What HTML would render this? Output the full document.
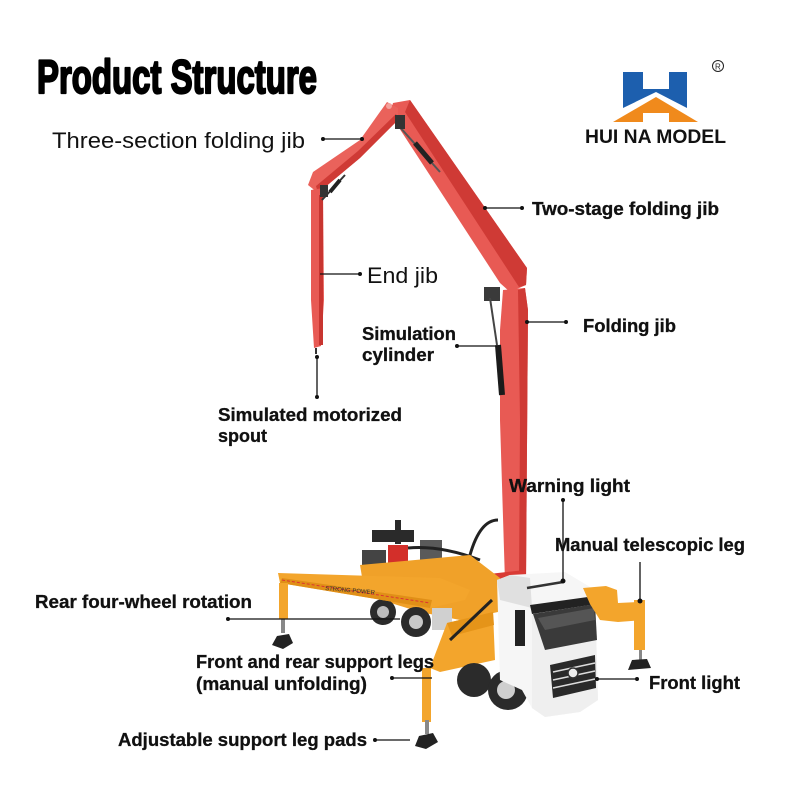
<!DOCTYPE html>
<html><head><meta charset="utf-8"><style>
html,body{margin:0;padding:0;background:#fff;}
svg{display:block;}
.b{font-family:"Liberation Sans",sans-serif;font-weight:bold;font-size:18px;fill:#111;stroke:#111;stroke-width:0.3;}
.r{font-family:"Liberation Sans",sans-serif;font-size:22px;fill:#111;}
</style></head><body>
<svg width="800" height="800" viewBox="0 0 800 800" xmlns="http://www.w3.org/2000/svg">
<rect width="800" height="800" fill="#fff"/>
<!-- Title -->
<text x="37" y="93" font-family="Liberation Sans,sans-serif" font-weight="bold" font-size="47" fill="#000" stroke="#000" stroke-width="2.2" stroke-linejoin="round" textLength="280" lengthAdjust="spacingAndGlyphs">Product Structure</text>
<!-- Logo -->
<polygon points="623,72 643,72 643,89 669,89 669,72 687,72 687,108 656,92 623,108" fill="#1d5fae"/>
<polygon points="613,122 656,97 698,122 669,122 669,113 643,113 643,122" fill="#f08a1c"/>
<text x="585" y="143" font-family="Liberation Sans,sans-serif" font-weight="bold" font-size="19" fill="#111" textLength="141" lengthAdjust="spacingAndGlyphs">HUI NA MODEL</text>
<circle cx="718" cy="66" r="5.5" fill="none" stroke="#222" stroke-width="1"/>
<text x="715" y="69.5" font-family="Liberation Sans,sans-serif" font-size="8" fill="#222">R</text>

<!-- ===== Boom ===== -->
<polygon points="390,114 393,103 410,100 527,268 526,285 510,292 500,283" fill="#e85a54"/>
<polygon points="410,100 527,268 526,285 519,287 405,112" fill="#cf3a35"/>
<polygon points="387,102 398,108 398,120 360,158 318,193 308,185 313,172 360,140" fill="#ea625b"/>
<polygon points="398,120 360,158 318,193 316,186 358,151 396,114" fill="#cf3a35"/>
<circle cx="389" cy="106" r="3" fill="#f4a19c"/>
<polygon points="311,190 323,188 324,300 321,346 314,348 311,300" fill="#e85a54"/>
<rect x="319" y="195" width="4" height="150" fill="#c83530"/>
<line x1="316" y1="348" x2="316" y2="354" stroke="#333" stroke-width="2"/>
<line x1="322" y1="200" x2="345" y2="175" stroke="#333" stroke-width="2"/>
<line x1="330" y1="192" x2="340" y2="180" stroke="#222" stroke-width="4"/>
<rect x="320" y="185" width="8" height="12" fill="#333"/>
<line x1="398" y1="125" x2="440" y2="172" stroke="#555" stroke-width="2"/>
<line x1="415" y1="143" x2="432" y2="163" stroke="#222" stroke-width="5"/>
<rect x="395" y="115" width="10" height="14" fill="#333"/>
<polygon points="503,290 525,288 528,310 526,582 505,582 500,420 500,330" fill="#e85a54"/>
<polygon points="518,290 525,288 528,310 526,582 519,582 520,420" fill="#cf3a35"/>
<rect x="484" y="287" width="16" height="14" fill="#3a3a3a"/>
<line x1="490" y1="298" x2="497" y2="345" stroke="#444" stroke-width="2"/>
<line x1="498" y1="345" x2="502" y2="395" stroke="#1b1b1b" stroke-width="6"/>
<polygon points="480,575 525,570 528,600 487,610" fill="#d93a34"/>
<path d="M470 555 Q480 520 498 520" stroke="#222" stroke-width="3" fill="none"/>

<!-- ===== Truck ===== -->
<rect x="372" y="530" width="42" height="12" fill="#2a2a2a"/>
<rect x="395" y="520" width="6" height="24" fill="#2a2a2a"/>
<rect x="388" y="545" width="20" height="20" fill="#d32f2a"/>
<rect x="420" y="540" width="22" height="20" fill="#5a5a5a"/>
<rect x="362" y="550" width="24" height="16" fill="#444"/>
<path d="M408 548 Q440 545 480 560" stroke="#222" stroke-width="3" fill="none"/>
<polygon points="360,565 470,555 500,578 498,612 460,620 420,612 365,595" fill="#f0a129"/>
<circle cx="383" cy="612" r="13" fill="#2b2b2b"/>
<circle cx="383" cy="612" r="6" fill="#bbb"/>
<circle cx="416" cy="622" r="15" fill="#2b2b2b"/>
<circle cx="416" cy="622" r="7" fill="#c8c8c8"/>
<rect x="432" y="608" width="20" height="22" fill="#d0d0d0"/>
<polygon points="278,573 440,578 470,590 465,600 430,608 280,583" fill="#f3a52c"/>
<polygon points="280,583 430,608 432,600 282,578" fill="#e08f17"/>
<line x1="282" y1="580" x2="430" y2="603" stroke="#d33" stroke-width="1" stroke-dasharray="3,2"/>
<text x="325" y="590" font-family="Liberation Sans,sans-serif" font-size="6" fill="#333" transform="rotate(5 325 590)">STRONG POWER</text>
<rect x="279" y="583" width="9" height="36" fill="#f3a52c"/>
<rect x="281" y="619" width="4" height="14" fill="#888"/>
<polygon points="272,645 277,636 289,634 293,643 283,649" fill="#222"/>
<polygon points="447,623 493,612 495,660 440,672 430,668" fill="#f3a52c"/>
<polygon points="447,623 493,612 494,625 452,636" fill="#e59419"/>
<line x1="450" y1="640" x2="492" y2="600" stroke="#222" stroke-width="3"/>
<rect x="422" y="668" width="9" height="54" fill="#f3a52c"/>
<rect x="425" y="720" width="4" height="14" fill="#888"/>
<polygon points="415,746 419,736 433,733 438,742 426,749" fill="#222"/>
<circle cx="474" cy="680" r="17" fill="#2b2b2b"/>
<circle cx="508" cy="690" r="20" fill="#2b2b2b"/>
<circle cx="506" cy="690" r="9" fill="#cfcfcf"/>
<polygon points="497,580 510,575 565,572 595,590 598,700 580,712 545,717 532,708 522,690 500,680" fill="#f6f6f6"/>
<polygon points="532,608 595,598 598,700 580,712 545,717 532,708" fill="#efefef"/>
<polygon points="497,580 510,575 530,578 532,608 500,600" fill="#e0e0e0"/>
<line x1="527" y1="588" x2="563" y2="582" stroke="#333" stroke-width="2.5"/>
<polygon points="530,605 595,596 596,604 532,614" fill="#222"/>
<polygon points="533,614 595,604 597,640 545,650" fill="#3a3a3a"/>
<polygon points="538,618 594,608 595,620 545,630" fill="#555"/>
<rect x="515" y="610" width="10" height="36" fill="#222"/>
<polygon points="550,665 595,655 596,688 553,698" fill="#2a2a2a"/>
<line x1="553" y1="672" x2="595" y2="663" stroke="#ddd" stroke-width="1.5"/>
<line x1="553" y1="680" x2="595" y2="671" stroke="#ddd" stroke-width="1.5"/>
<line x1="553" y1="688" x2="595" y2="679" stroke="#ddd" stroke-width="1.5"/>
<circle cx="573" cy="673" r="5" fill="#eee" stroke="#333" stroke-width="1.5"/>
<polygon points="583,588 606,586 617,590 618,603 640,602 645,620 618,622 600,620 590,604" fill="#f3a52c"/>
<rect x="634" y="600" width="11" height="50" fill="#f3a52c"/>
<rect x="639" y="650" width="3" height="10" fill="#888"/>
<polygon points="628,670 632,660 647,659 651,668" fill="#222"/>

<!-- ===== Connector lines ===== -->
<g stroke="#111" stroke-width="1.3" fill="#111">
<line x1="323" y1="139" x2="363" y2="139"/><circle cx="323" cy="139" r="2" stroke="none"/><circle cx="362" cy="139" r="2" stroke="none"/>
<line x1="484" y1="208" x2="522" y2="208"/><circle cx="522" cy="208" r="2" stroke="none"/><circle cx="485" cy="208" r="2" stroke="none"/>
<line x1="320" y1="274" x2="360" y2="274"/><circle cx="360" cy="274" r="2" stroke="none"/>
<line x1="527" y1="322" x2="566" y2="322"/><circle cx="566" cy="322" r="2" stroke="none"/><circle cx="527" cy="322" r="2" stroke="none"/>
<line x1="457" y1="346" x2="497" y2="346"/><circle cx="457" cy="346" r="2" stroke="none"/>
<line x1="317" y1="357" x2="317" y2="397"/><circle cx="317" cy="357" r="2" stroke="none"/><circle cx="317" cy="397" r="2" stroke="none"/>
<line x1="563" y1="500" x2="563" y2="581"/><circle cx="563" cy="500" r="2" stroke="none"/><circle cx="563" cy="581" r="2.5" stroke="none"/>
<line x1="640" y1="562" x2="640" y2="601"/><circle cx="640" cy="601" r="2.5" stroke="none"/>
<line x1="228" y1="619" x2="400" y2="619"/><circle cx="228" cy="619" r="2" stroke="none"/>
<line x1="392" y1="678" x2="432" y2="678"/><circle cx="392" cy="678" r="2" stroke="none"/>
<line x1="597" y1="679" x2="637" y2="679"/><circle cx="597" cy="679" r="2" stroke="none"/><circle cx="637" cy="679" r="2" stroke="none"/>
<line x1="375" y1="740" x2="410" y2="740"/><circle cx="375" cy="740" r="2" stroke="none"/>
</g>

<!-- ===== Labels ===== -->
<text class="r" x="52" y="148" textLength="253" lengthAdjust="spacingAndGlyphs">Three-section folding jib</text>
<text class="b" x="532" y="215" textLength="187" lengthAdjust="spacingAndGlyphs">Two-stage folding jib</text>
<text class="r" x="367" y="283" textLength="71" lengthAdjust="spacingAndGlyphs">End jib</text>
<text class="b" x="583" y="332" textLength="93" lengthAdjust="spacingAndGlyphs">Folding jib</text>
<text class="b" x="362" y="340" textLength="94" lengthAdjust="spacingAndGlyphs">Simulation</text>
<text class="b" x="362" y="361" textLength="72" lengthAdjust="spacingAndGlyphs">cylinder</text>
<text class="b" x="218" y="421" textLength="184" lengthAdjust="spacingAndGlyphs">Simulated motorized</text>
<text class="b" x="218" y="442" textLength="49" lengthAdjust="spacingAndGlyphs">spout</text>
<text class="b" x="509" y="492" textLength="121" lengthAdjust="spacingAndGlyphs">Warning light</text>
<text class="b" x="555" y="551" textLength="190" lengthAdjust="spacingAndGlyphs">Manual telescopic leg</text>
<text class="b" x="35" y="608" textLength="217" lengthAdjust="spacingAndGlyphs">Rear four-wheel rotation</text>
<text class="b" x="196" y="668" textLength="238" lengthAdjust="spacingAndGlyphs">Front and rear support legs</text>
<text class="b" x="196" y="690" textLength="171" lengthAdjust="spacingAndGlyphs">(manual unfolding)</text>
<text class="b" x="649" y="689" textLength="91" lengthAdjust="spacingAndGlyphs">Front light</text>
<text class="b" x="118" y="746" textLength="249" lengthAdjust="spacingAndGlyphs">Adjustable support leg pads</text>
</svg>
</body></html>
